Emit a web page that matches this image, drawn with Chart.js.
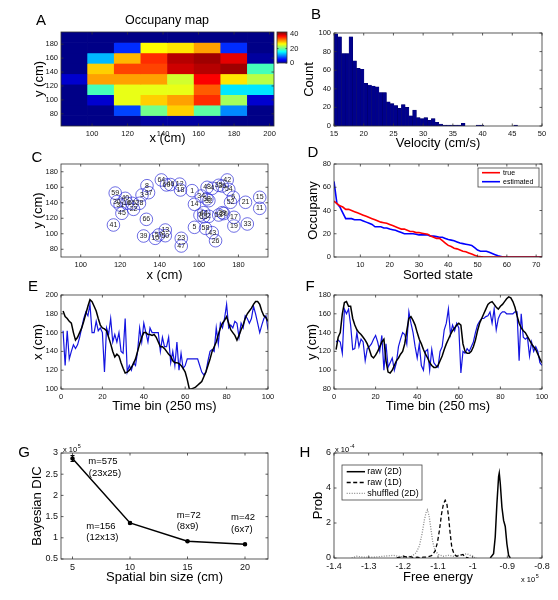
<!DOCTYPE html>
<html>
<head>
<meta charset="utf-8">
<script src="https://cdn.jsdelivr.net/npm/chart.js@4.4.1/dist/chart.umd.min.js"></script>
<style>
  html, body { margin: 0; padding: 0; background: #fff; }
  #fig { position: relative; width: 558px; height: 600px; }
  #fig canvas { position: absolute; left: 0; top: 0; }
</style>
</head>
<body>
<div id="fig"></div>
<script>
const FONT = '"Liberation Sans", Arial, Helvetica, sans-serif';
const W = 558, H = 600;

// A: occupancy map, counts per 15 cm bin (rows top -> bottom)
const mapX = [90, 105, 120, 135, 150, 165, 180, 195];
const mapY = [190, 175, 160, 145, 130, 115, 100, 85, 70];
const mapCounts = [
  [0, 0, 0, 0, 0, 0, 0, 0],
  [0, 0, 7, 27, 28, 31, 7, 0],
  [0, 13, 30, 36, 41, 42, 39, 1],
  [0, 29, 35, 35, 40, 41, 42, 19],
  [3, 31, 31, 31, 25, 38, 28, 24],
  [0, 19, 26, 26, 26, 34, 15, 15],
  [0, 3, 26, 29, 31, 36, 23, 3],
  [0, 0, 8, 21, 29, 20, 11, 0],
  [0, 0, 0, 1, 1, 1, 0, 0],
];
const mapXTicks = [100, 120, 140, 160, 180, 200];
const mapYTicks = [80, 100, 120, 140, 160, 180];
const cbarTicks = [0, 20, 40];
const cbarMax = 43;

// B: velocity histogram
const velCenters = [15.32, 15.95, 16.58, 17.21, 17.84, 18.47, 19.1, 19.73, 20.36, 20.99,
  21.62, 22.25, 22.88, 23.51, 24.14, 24.77, 25.4, 26.03, 26.66, 27.29,
  27.92, 28.55, 29.18, 29.81, 30.44, 31.07, 31.7, 32.33, 32.96, 33.59,
  34.22, 34.85, 35.48, 36.11, 36.74, 37.37, 38, 38.63, 39.26, 39.89,
  40.52, 41.15, 41.78, 42.41, 43.04, 43.67, 44.3, 44.93, 45.56, 46.19];
const velCounts = [99, 96, 78, 78, 96, 70, 62, 61, 46, 44,
  43, 42, 36, 36, 26, 24, 22, 19, 23, 20,
  11, 17, 9, 8, 9, 6, 8, 4, 2, 1,
  1, 1, 1, 1, 3, 0, 0, 0, 1, 1,
  0, 0, 0, 0, 0, 0, 0, 0, 1, 0];
const velTicks = [15, 20, 25, 30, 35, 40, 45, 50];
const countTicks = [0, 20, 40, 60, 80, 100];

// C: place field centres
const fieldId = [59, 30, 40, 31, 16, 65, 28, 22, 45, 41, 3, 37, 8, 64, 60, 46, 12, 18, 66, 39,
  10, 13, 57, 50, 23, 47, 1, 34, 14, 48, 4, 36, 35, 42, 54, 32, 38, 52, 6, 21,
  15, 11, 44, 55, 2, 29, 53, 17, 19, 33, 5, 58, 43, 26, 7, 20];
const fieldX = [117.5, 118.3, 122.6, 120, 123.4, 126, 129.8, 126.8, 120.9, 116.6, 131.1, 134.4, 133.6, 140.9, 143.5, 145.5, 150.2, 150.6, 133.3, 131.9,
  137.8, 142.9, 139.5, 142.9, 151, 151, 156.5, 161.1, 157.7, 164.1, 166.7, 171.8, 170, 174.3, 175.1, 165, 164, 176, 177.4, 183.6,
  190.8, 190.8, 162.4, 162.4, 165, 171.8, 170, 177.7, 177.7, 184.5, 157.7, 163.3, 166.7, 168.4, 160.5, 172.5];
const fieldY = [152.5, 141.4, 145.7, 137, 139.3, 139.3, 139.3, 131.5, 126.4, 111.3, 150, 153, 162, 169.4, 163, 163.5, 164, 156.5, 118.6, 97.1,
  94.1, 104.8, 98.4, 97.5, 94.1, 84.2, 155.6, 148.7, 138, 159.9, 158.6, 161.6, 162.5, 169.4, 157.3, 142.7, 145, 140.6, 147, 140.6,
  147, 132.8, 127.2, 122, 122.5, 127.2, 124.2, 121.2, 110, 112.6, 108.3, 107, 101.4, 91, 124, 126];
const fieldXTicks = [100, 120, 140, 160, 180];
const fieldYTicks = [80, 100, 120, 140, 160, 180];

// D: sorted occupancy, true vs estimated (states 1..72)
const occTrue = [48, 46, 44, 43, 41, 41, 40, 39, 38, 37,
  36, 35, 34, 33, 32, 31, 30, 29.5, 29, 28,
  27, 26, 25, 24, 24, 23, 22, 22, 21, 21,
  20.5, 20, 19.5, 18, 17, 16, 16, 14, 12, 10,
  9, 7.5, 7, 6, 5, 4.5, 3.5, 2.5, 1.5, 0.7,
  0.3, 0, 0, 0, 0, 0, 0, 0, 0, 0,
  0, 0, 0, 0, 0, 0, 0, 0, 0, 0, 0, 0];
const occEst = [65, 46, 43, 38, 33, 33, 33, 32, 32, 32,
  31, 30, 29, 28, 26, 26, 26, 25, 25, 24,
  23.5, 23, 22, 21, 20, 20, 20, 20, 19.5, 19,
  19, 19, 19, 18, 18, 17.5, 17, 17, 16, 15,
  14.5, 14, 13, 12, 11.5, 11, 10.5, 10, 8, 6,
  5, 5, 5, 4, 3, 2, 1, 0.5, 0, 0,
  0, 0, 0, 0, 0, 0, 0, 0, 0, 0, 0, 0];
const stateTicks = [10, 20, 30, 40, 50, 60, 70];
const occTicks = [0, 20, 40, 60, 80];

// E/F: decoded trajectory, time bins 1..100
const posXTrue = [183, 177, 175, 172, 170, 160, 152, 155, 160, 165,
  172, 180, 188, 195, 193, 188, 183, 175, 168, 165,
  164, 162, 155, 148, 140, 134, 137, 135, 128, 122,
  117, 118, 120, 123, 127, 132, 140, 148, 155, 160,
  160, 158, 158, 157, 158, 155, 150, 145, 145, 143,
  140, 137, 135, 130, 128, 128, 127, 125, 122, 118,
  110, 100, 100, 101, 102, 104, 106, 108, 113, 118,
  125, 132, 140, 145, 150, 158, 165, 170, 173, 177,
  170, 163, 160, 157, 152, 157, 163, 168, 175, 180,
  183, 186, 190, 193, 193, 190, 183, 178, 176, 172];
const posXEst = [162, 125, 162, 132, 140, 147, 143, 147, 155, 165,
  175, 182, 178, 190, 160, 160, 172, 162, 165, 160,
  118, 165, 158, 175, 150, 158, 150, 160, 140, 138,
  175, 118, 125, 120, 128, 125, 140, 165, 150, 170,
  160, 150, 165, 160, 160, 160, 160, 140, 155, 145,
  145, 155, 128, 140, 125, 150, 120, 138, 122, 125,
  132, 132, 132, 132, 132, 132, 125, 118, 115, 118,
  130, 140, 142, 140, 165, 148, 170, 165, 175, 190,
  165, 168, 165, 172, 170, 155, 170, 165, 178, 175,
  170, 175, 188, 180, 170, 160, 168, 175, 178, 163];
const posYTrue = [122, 135, 140, 160, 172, 173, 168, 168, 155, 148,
  143, 140, 138, 135, 132, 128, 122, 115, 113, 116,
  120, 125, 130, 133, 110, 98, 97, 100, 105, 110,
  113, 117, 120, 128, 142, 155, 157, 153, 148, 140,
  133, 128, 122, 117, 113, 108, 105, 103, 103, 105,
  110, 115, 122, 128, 133, 138, 142, 145, 148, 150,
  148, 128, 120, 118, 118, 120, 125, 132, 142, 150,
  155, 160, 165, 170, 172, 173, 170, 167, 165, 168,
  170, 173, 176, 178, 177, 173, 167, 158, 150, 145,
  142, 140, 136, 132, 128, 125, 122, 117, 112, 108];
const posYEst = [130, 132, 130, 118, 165, 160, 165, 148, 122, 123,
  140, 125, 133, 130, 110, 123, 125, 128, 133, 137,
  130, 120, 137, 100, 128, 103, 108, 113, 100, 108,
  125, 133, 140, 138, 128, 162, 150, 140, 125, 113,
  128, 105, 100, 120, 122, 100, 122, 108, 105, 103,
  120, 125, 143, 150, 165, 138, 148, 142, 150, 145,
  97, 120, 118, 123, 120, 125, 130, 140, 148, 152,
  155, 155, 157, 158, 162, 150, 165, 143, 155, 160,
  162, 162, 160, 160, 160, 160, 162, 162, 110, 160,
  135, 133, 135, 115, 130, 120, 125, 120, 108, 105];
const timeTicks = [0, 20, 40, 60, 80, 100];
const posXTicks = [100, 120, 140, 160, 180, 200];
const posYTicks = [80, 100, 120, 140, 160, 180];

// G: model selection
const binSizes = [5, 10, 15, 20];
const dicValues = [287000, 135000, 92000, 84500];
const dicErr = [7000, 2000, 1000, 1000];
const binTicks = [5, 10, 15, 20];
const dicTicks = [50000, 100000, 150000, 200000, 250000, 300000];

// H: free energy distributions
const raw2dX = [-94930, -93970, -93490, -93010, -92520, -92330, -92040, -91560, -91080, -90600, -90120, -89630, -89150];
const raw2dP = [0, 0.25e-4, 1.2e-4, 3.1e-4, 4.65e-4, 4.85e-4, 4.27e-4, 2.9e-4, 2.15e-4, 1.8e-4, 0.8e-4, 0.15e-4, 0];
const raw1dX = [-121900, -120900, -120000, -119000, -118000, -117000, -116000, -115150, -114200, -113230,
  -112300, -111780, -110820, -110150, -109570, -108990, -108420, -107930, -107450, -106970,
  -106490, -106010, -105330, -104560, -103600, -102830, -102160, -101190];
const raw1dP = [0, 0.05e-4, 0.1e-4, 0.05e-4, 0.08e-4, 0.02e-4, 0.05e-4, 0.02e-4, 0.05e-4, 0.05e-4,
  0.1e-4, 0.15e-4, 0.4e-4, 0.9e-4, 1.6e-4, 2.5e-4, 3.1e-4, 3.3e-4, 3.1e-4, 2.4e-4,
  1.4e-4, 0.6e-4, 0.2e-4, 0.1e-4, 0.15e-4, 0.2e-4, 0.05e-4, 0];
const shufX = [-134900, -133450, -131530, -128640, -125750, -122860, -119970, -117560, -116310, -115350,
  -114580, -113910, -113430, -113040, -112560, -112070, -111500, -110820, -109860, -108420,
  -106970, -105530, -104080, -102640, -101670, -100710, -99750, -98780];
const shufP = [0, 0.1e-4, 0.05e-4, 0.05e-4, 0.1e-4, 0.15e-4, 0.05e-4, 0.1e-4, 0.3e-4, 0.7e-4,
  1.4e-4, 2.2e-4, 2.6e-4, 2.75e-4, 2.4e-4, 1.7e-4, 0.9e-4, 0.4e-4, 0.2e-4, 0.1e-4,
  0.15e-4, 0.1e-4, 0.15e-4, 0.2e-4, 0.25e-4, 0.15e-4, 0.05e-4, 0];
const energyTicks = [-140000, -130000, -120000, -110000, -100000, -90000, -80000];
const probTicks = [0, 2e-4, 4e-4, 6e-4];

// ---------- helpers ----------
function jet(v, vmax) {
  const t = Math.min(Math.max(v / vmax, 0), 1) * 63 / 64 + 1 / 128;
  const f = (c) => Math.round(255 * Math.min(Math.max(1.5 - Math.abs(4 * t - c), 0), 1));
  return `rgb(${f(3)},${f(2)},${f(1)})`;
}

function mk() {
  const c = document.createElement('canvas');
  c.width = W;
  c.height = H;
  document.getElementById('fig').appendChild(c);
  return c;
}

function axis(pos, min, max, ticks, title, size, o = {}) {
  const horiz = pos === 'bottom' || pos === 'top';
  return {
    type: 'linear', position: pos, min, max, offset: false,
    grid: { display: false, drawTicks: false },
    border: { display: false },
    afterBuildTicks: (s) => { s.ticks = ticks.map((v) => ({ value: v })); },
    afterFit: (s) => { if (horiz) s.height = size; else s.width = size; },
    ticks: {
      autoSkip: false, maxRotation: 0, padding: o.pad ?? 3,
      color: '#111', font: { family: FONT, size: o.tickSize || 7.5 },
      callback: o.fmt || ((v) => String(v)),
    },
    title: {
      display: !!title, text: title || '', color: '#000', padding: 0,
      font: { family: FONT, size: 13, lineHeight: 1 },
    },
  };
}

// r: plot rectangle in page px, yw / xh: room for y axis / x axis
function opts(r, scales) {
  return {
    responsive: false, animation: false, events: [],
    layout: { padding: { left: r.l - r.yw, top: r.t, right: W - r.r, bottom: H - r.b - r.xh } },
    plugins: { legend: { display: false }, tooltip: { enabled: false } },
    scales,
  };
}

// MATLAB style box with inward ticks
function matBox(len = 2.5) {
  return {
    id: 'matBox',
    afterDraw(chart) {
      const { ctx, chartArea: a } = chart;
      ctx.save();
      ctx.strokeStyle = '#333';
      ctx.lineWidth = 0.8;
      ctx.strokeRect(a.left, a.top, a.width, a.height);
      ctx.beginPath();
      ['x', 'y'].forEach((id) => {
        const s = chart.scales[id];
        if (!s || !s.options.display) return;
        s.ticks.forEach((t) => {
          const p = s.getPixelForValue(t.value);
          if (s.isHorizontal()) {
            ctx.moveTo(p, a.bottom); ctx.lineTo(p, a.bottom - len);
            ctx.moveTo(p, a.top); ctx.lineTo(p, a.top + len);
          } else {
            ctx.moveTo(a.left, p); ctx.lineTo(a.left + len, p);
            ctx.moveTo(a.right, p); ctx.lineTo(a.right - len, p);
          }
        });
      });
      ctx.stroke();
      ctx.restore();
    },
  };
}

function textLayer(items) {
  return {
    id: 'textLayer',
    afterDraw(chart) {
      const { ctx } = chart;
      items.forEach((it) => {
        const size = it.size || 13;
        ctx.save();
        ctx.fillStyle = it.color || '#000';
        ctx.font = `${size}px ${FONT}`;
        ctx.textAlign = it.align || 'center';
        ctx.textBaseline = 'middle';
        let x = it.x, y = it.y;
        if (it.data) {
          x = chart.scales.x.getPixelForValue(it.x);
          y = chart.scales.y.getPixelForValue(it.y);
        }
        ctx.fillText(it.text, x, y);
        if (it.sup) {
          const w = ctx.measureText(it.text).width;
          ctx.font = `${size * 0.72}px ${FONT}`;
          ctx.textAlign = 'left';
          ctx.fillText(it.sup, x + w + 0.5, y - size * 0.45);
        }
        ctx.restore();
      });
    },
  };
}

function lineLegend(b) {
  return {
    id: 'lineLegend',
    afterDraw(chart) {
      const { ctx } = chart;
      ctx.save();
      ctx.fillStyle = '#fff';
      ctx.fillRect(b.x, b.y, b.w, b.h);
      ctx.strokeStyle = '#444';
      ctx.lineWidth = 0.8;
      ctx.strokeRect(b.x, b.y, b.w, b.h);
      ctx.font = `${b.size}px ${FONT}`;
      ctx.textBaseline = 'middle';
      ctx.textAlign = 'left';
      chart.data.datasets.forEach((ds, i) => {
        const y = b.y + b.first + i * b.rowH;
        ctx.strokeStyle = ds.borderColor;
        ctx.lineWidth = ds.borderWidth;
        ctx.setLineDash(ds.borderDash || []);
        ctx.beginPath();
        ctx.moveTo(b.x + b.lineX, y);
        ctx.lineTo(b.x + b.lineX + b.lineW, y);
        ctx.stroke();
        ctx.fillStyle = '#000';
        ctx.fillText(ds.label, b.x + b.textX, y);
      });
      ctx.restore();
    },
  };
}

function fieldLabels(ids) {
  return {
    id: 'fieldLabels',
    afterDatasetsDraw(chart) {
      const { ctx } = chart;
      const meta = chart.getDatasetMeta(0);
      ctx.save();
      ctx.font = `7px ${FONT}`;
      ctx.fillStyle = '#222';
      ctx.textAlign = 'center';
      ctx.textBaseline = 'middle';
      meta.data.forEach((p, i) => ctx.fillText(String(ids[i]), p.x, p.y));
      ctx.restore();
    },
  };
}

function errorBars(errs) {
  return {
    id: 'errorBars',
    afterDatasetsDraw(chart) {
      const { ctx } = chart;
      const ys = chart.scales.y;
      const ds = chart.data.datasets[0];
      ctx.save();
      ctx.strokeStyle = '#000';
      ctx.lineWidth = 1;
      chart.getDatasetMeta(0).data.forEach((pt, i) => {
        const v = ds.data[i].y;
        const y0 = ys.getPixelForValue(v - errs[i]);
        const y1 = ys.getPixelForValue(v + errs[i]);
        ctx.beginPath();
        ctx.moveTo(pt.x, y0); ctx.lineTo(pt.x, y1);
        ctx.moveTo(pt.x - 2, y0); ctx.lineTo(pt.x + 2, y0);
        ctx.moveTo(pt.x - 2, y1); ctx.lineTo(pt.x + 2, y1);
        ctx.stroke();
      });
      ctx.restore();
    },
  };
}

const pts = (xs, ys) => xs.map((x, i) => ({ x, y: ys[i] }));
const steps = (n) => Array.from({ length: n }, (_, i) => i + 1);
const lineDs = (data, color, width, extra = {}) => Object.assign({
  data, showLine: true, borderColor: color, borderWidth: width,
  pointRadius: 0, tension: 0, fill: false,
}, extra);

// ---------- A: occupancy map ----------
{
  const r = { l: 61, t: 32, r: 274, b: 126, yw: 28.5, xh: 18.5 };
  new Chart(mk(), {
    type: 'bar',
    data: {
      datasets: mapY.map((y, row) => ({
        data: mapX.map((x) => ({ x, y: [y - 7.5, y + 7.5] })),
        backgroundColor: mapCounts[row].map((v) => jet(v, cbarMax)),
        borderWidth: 0, grouped: false, barPercentage: 1, categoryPercentage: 1,
      })),
    },
    options: opts(r, {
      x: axis('bottom', 82.5, 202.5, mapXTicks, 'x (cm)', r.xh),
      y: axis('left', 62.5, 197.5, mapYTicks, 'y (cm)', r.yw),
    }),
    plugins: [matBox(), textLayer([
      { text: 'A', x: 41, y: 21, size: 15 },
      { text: 'Occupany map', x: 167, y: 21, size: 12.5 },
    ])],
  });

  // colour bar
  const levels = Array.from({ length: 64 }, (_, i) => (i + 0.5) * cbarMax / 64);
  const cb = { l: 277, t: 32, r: 287, b: 63, yw: 0, xh: 0 };
  const cbOpts = opts(cb, {
    x: { type: 'linear', min: 0, max: 1, display: false },
    y: axis('right', 0, cbarMax, cbarTicks, '', 15),
  });
  cbOpts.indexAxis = 'y';
  cbOpts.layout.padding.right = W - cb.r - 15;
  new Chart(mk(), {
    type: 'bar',
    data: {
      datasets: [{
        data: levels.map((v) => ({ y: v, x: [0, 1] })),
        backgroundColor: levels.map((v) => jet(v, cbarMax)),
        borderWidth: 0, barPercentage: 1, categoryPercentage: 1,
      }],
    },
    options: cbOpts,
    plugins: [matBox(1.5)],
  });
}

// ---------- B: velocity histogram ----------
{
  const r = { l: 334, t: 33, r: 542, b: 126, yw: 31.5, xh: 23.5 };
  new Chart(mk(), {
    type: 'bar',
    data: {
      datasets: [{
        data: pts(velCenters, velCounts),
        backgroundColor: '#00008c', borderColor: '#000060', borderWidth: 0.4,
        barPercentage: 1, categoryPercentage: 1,
      }],
    },
    options: opts(r, {
      x: axis('bottom', 15, 50, velTicks, 'Velocity (cm/s)', r.xh),
      y: axis('left', 0, 100, countTicks, 'Count', r.yw),
    }),
    plugins: [matBox(), textLayer([{ text: 'B', x: 316, y: 15, size: 15 }])],
  });
}

// ---------- C: place fields ----------
{
  const r = { l: 61, t: 164, r: 268, b: 257, yw: 29.5, xh: 24.5 };
  new Chart(mk(), {
    type: 'scatter',
    data: {
      datasets: [{
        data: pts(fieldX, fieldY),
        pointRadius: 6.3, pointBorderWidth: 0.8,
        pointBorderColor: 'rgba(40,40,215,0.85)', pointBackgroundColor: 'rgba(0,0,0,0)',
      }],
    },
    options: opts(r, {
      x: axis('bottom', 90, 195, fieldXTicks, 'x (cm)', r.xh),
      y: axis('left', 70, 190, fieldYTicks, 'y (cm)', r.yw),
    }),
    plugins: [matBox(), fieldLabels(fieldId), textLayer([{ text: 'C', x: 37, y: 158, size: 15 }])],
  });
}

// ---------- D: sorted occupancy ----------
{
  const r = { l: 334, t: 164, r: 542, b: 257, yw: 27.5, xh: 24.5 };
  const states = steps(occTrue.length);
  new Chart(mk(), {
    type: 'scatter',
    data: {
      datasets: [
        lineDs(pts(states, occTrue), '#ff0000', 1.6, { label: 'true' }),
        lineDs(pts(states, occEst), '#0000ff', 1.6, { label: 'estimated' }),
      ],
    },
    options: opts(r, {
      x: axis('bottom', 1, 72, stateTicks, 'Sorted state', r.xh),
      y: axis('left', 0, 80, occTicks, 'Occupany', r.yw),
    }),
    plugins: [matBox(), lineLegend({ x: 478, y: 168, w: 61, h: 19, first: 4.7, rowH: 9, lineX: 4, lineW: 18, textX: 25, size: 7 }),
      textLayer([{ text: 'D', x: 313, y: 153, size: 15 }])],
  });
}

// ---------- E: x position decoding ----------
{
  const r = { l: 61, t: 295, r: 268, b: 389, yw: 29.5, xh: 23.5 };
  const bins = steps(posXTrue.length);
  new Chart(mk(), {
    type: 'scatter',
    data: {
      datasets: [
        lineDs(pts(bins, posXTrue), '#000', 1.5),
        lineDs(pts(bins, posXEst), '#1414e0', 1.2),
      ],
    },
    options: opts(r, {
      x: axis('bottom', 0, 100, timeTicks, 'Time bin (250 ms)', r.xh),
      y: axis('left', 100, 200, posXTicks, 'x (cm)', r.yw),
    }),
    plugins: [matBox(), textLayer([{ text: 'E', x: 33, y: 287, size: 15 }])],
  });
}

// ---------- F: y position decoding ----------
{
  const r = { l: 334, t: 295, r: 542, b: 389, yw: 28.5, xh: 23.5 };
  const bins = steps(posYTrue.length);
  new Chart(mk(), {
    type: 'scatter',
    data: {
      datasets: [
        lineDs(pts(bins, posYTrue), '#000', 1.5),
        lineDs(pts(bins, posYEst), '#1414e0', 1.2),
      ],
    },
    options: opts(r, {
      x: axis('bottom', 0, 100, timeTicks, 'Time bin (250 ms)', r.xh),
      y: axis('left', 80, 180, posYTicks, 'y (cm)', r.yw),
    }),
    plugins: [matBox(), textLayer([{ text: 'F', x: 310, y: 287, size: 15 }])],
  });
}

// ---------- G: Bayesian DIC ----------
{
  const r = { l: 61, t: 453, r: 268, b: 559, yw: 30.5, xh: 24.5 };
  new Chart(mk(), {
    type: 'scatter',
    data: {
      datasets: [lineDs(pts(binSizes, dicValues), '#000', 1.5, {
        pointRadius: 1.5, pointBackgroundColor: '#000', pointBorderColor: '#000',
      })],
    },
    options: opts(r, {
      x: axis('bottom', 4, 22, binTicks, 'Spatial bin size (cm)', r.xh, { tickSize: 9 }),
      y: axis('left', 50000, 300000, dicTicks, 'Bayesian DIC', r.yw, { tickSize: 9, fmt: (v) => String(v / 1e5) }),
    }),
    plugins: [matBox(), errorBars(dicErr), textLayer([
      { text: 'G', x: 24, y: 453, size: 15 },
      { text: 'x 10', x: 63, y: 450, size: 7.5, align: 'left', sup: '5' },
      { text: 'm=575', x: 6.37, y: 279500, data: true, size: 9.5, align: 'left' },
      { text: '(23x25)', x: 6.42, y: 251200, data: true, size: 9.5, align: 'left' },
      { text: 'm=156', x: 6.2, y: 127800, data: true, size: 9.5, align: 'left' },
      { text: '(12x13)', x: 6.2, y: 100200, data: true, size: 9.5, align: 'left' },
      { text: 'm=72', x: 14.06, y: 152100, data: true, size: 9.5, align: 'left' },
      { text: '(8x9)', x: 14.06, y: 126200, data: true, size: 9.5, align: 'left' },
      { text: 'm=42', x: 18.78, y: 148300, data: true, size: 9.5, align: 'left' },
      { text: '(6x7)', x: 18.78, y: 121000, data: true, size: 9.5, align: 'left' },
    ])],
  });
}

// ---------- H: free energy ----------
{
  const r = { l: 334, t: 453, r: 542, b: 558, yw: 22.5, xh: 25.5 };
  new Chart(mk(), {
    type: 'scatter',
    data: {
      datasets: [
        lineDs(pts(raw2dX, raw2dP), '#000', 1.5, { label: 'raw (2D)' }),
        lineDs(pts(raw1dX, raw1dP), '#000', 1.3, { label: 'raw (1D)', borderDash: [4, 2.5] }),
        lineDs(pts(shufX, shufP), '#8a8a8a', 1.3, { label: 'shuffled (2D)', borderDash: [1, 1.5] }),
      ],
    },
    options: opts(r, {
      x: axis('bottom', -140000, -80000, energyTicks, 'Free energy', r.xh, { tickSize: 9, fmt: (v) => String(Math.round(v / 1e4) / 10) }),
      y: axis('left', 0, 6e-4, probTicks, 'Prob', r.yw, { tickSize: 9, fmt: (v) => String(Math.round(v * 1e4)) }),
    }),
    plugins: [matBox(), lineLegend({ x: 342, y: 465, w: 80, h: 35, first: 6.7, rowH: 10.8, lineX: 4.7, lineW: 18.3, textX: 25.3, size: 9 }),
      textLayer([
        { text: 'H', x: 305, y: 453, size: 15 },
        { text: 'x 10', x: 335, y: 450, size: 7.5, align: 'left', sup: '-4' },
        { text: 'x 10', x: 521, y: 580, size: 7.5, align: 'left', sup: '5' },
      ])],
  });
}
</script>
</body>
</html>
